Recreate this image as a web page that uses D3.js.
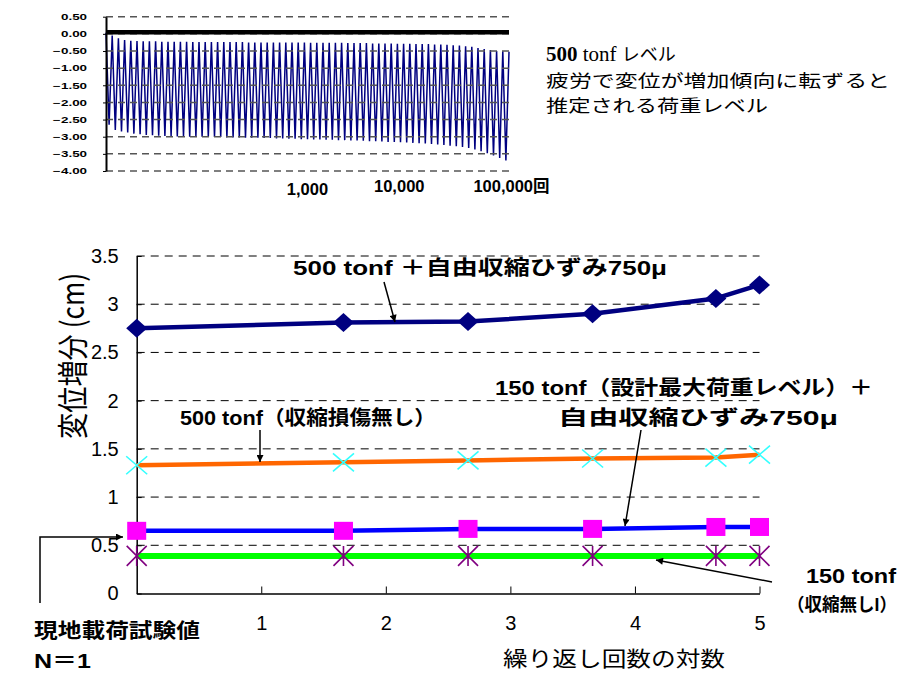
<!DOCTYPE html>
<html>
<head>
<meta charset="utf-8">
<script src="https://cdn.jsdelivr.net/npm/d3@7"></script>
<style>
  body { margin: 0; background: #fff; }
</style>
</head>
<body>
<div id="chart"></div>
<script>
// ---- top small chart: cyclic displacement trace (peaks of each cycle) ----
var cycleTops = [0.03, -0.05, -0.13, -0.18, -0.20, -0.21, -0.22, -0.22, -0.22, -0.23,
  -0.23, -0.23, -0.23, -0.23, -0.24, -0.24, -0.24, -0.24, -0.24, -0.24,
  -0.24, -0.24, -0.24, -0.25, -0.25, -0.25, -0.25, -0.25, -0.25, -0.25,
  -0.25, -0.25, -0.25, -0.26, -0.26, -0.26, -0.26, -0.26, -0.26, -0.27,
  -0.27, -0.27, -0.27, -0.28, -0.28, -0.28, -0.28, -0.29, -0.29, -0.29,
  -0.30, -0.30, -0.30, -0.31, -0.31, -0.32, -0.33, -0.34, -0.36, -0.38,
  -0.41, -0.44, -0.47, -0.50, -0.51, -0.52];
var cycleBottoms = [-2.65, -2.80, -2.85, -2.88, -2.91, -2.93, -2.95, -2.96, -2.97, -2.98,
  -2.98, -2.99, -2.99, -3.00, -3.00, -3.00, -3.01, -3.01, -3.01, -3.02,
  -3.02, -3.02, -3.03, -3.03, -3.03, -3.04, -3.04, -3.05, -3.05, -3.06,
  -3.06, -3.07, -3.07, -3.08, -3.08, -3.09, -3.09, -3.10, -3.10, -3.11,
  -3.11, -3.12, -3.13, -3.13, -3.14, -3.15, -3.15, -3.16, -3.17, -3.18,
  -3.19, -3.20, -3.21, -3.23, -3.24, -3.26, -3.28, -3.30, -3.33, -3.37,
  -3.42, -3.48, -3.55, -3.62, -3.69];
var loadRefLine = [0.05, 0.05];
var topYTicks = [0.5, 0, -0.5, -1, -1.5, -2, -2.5, -3, -3.5, -4];
var topXLabels = ["1,000", "10,000", "100,000回"];
var topXLabelAt = [32.5, 47.3, 65.4]; // in cycle units

// ---- main chart ----
var logN = [0, 1.66, 2.66, 3.66, 4.65, 5];
var s500free = [2.75, 2.81, 2.82, 2.90, 3.06, 3.20];
var s500 = [1.33, 1.36, 1.38, 1.40, 1.41, 1.44];
var s150free = [0.65, 0.65, 0.67, 0.67, 0.69, 0.69];
var s150 = [0.39, 0.39, 0.39, 0.39, 0.39, 0.39];
var mainYTicks = [0, 0.5, 1, 1.5, 2, 2.5, 3, 3.5];
var mainXTicks = [1, 2, 3, 4, 5];

var svg = d3.select("#chart").append("svg")
  .attr("width", 906)
  .attr("height", 677)
  .style("font-family", "'Liberation Sans', Arial, 'Noto Sans CJK JP', sans-serif");

svg.append("defs").append("marker")
  .attr("id", "arr")
  .attr("viewBox", "0 0 10 10")
  .attr("refX", 10).attr("refY", 5)
  .attr("markerWidth", 9).attr("markerHeight", 7)
  .attr("markerUnits", "userSpaceOnUse")
  .attr("orient", "auto")
  .append("path").attr("d", "M0,0 L10,5 L0,10 z").attr("fill", "#000");

/* ---------- top chart ---------- */
var tx = d3.scaleLinear().domain([0, cycleTops.length - 1]).range([106, 509]);
var ty = d3.scaleLinear().domain([-4, 0.5]).range([171, 16.7]);

var zig = [];
cycleTops.forEach(function (v, i) {
  zig.push([i, v]);
  if (i < cycleBottoms.length) zig.push([i + 0.5, cycleBottoms[i]]);
});

var gTop = svg.append("g");

gTop.append("path")
  .datum(zig)
  .attr("fill", "none")
  .attr("stroke", "#000080")
  .attr("stroke-width", 1.5)
  .attr("d", d3.line().x(d => tx(d[0])).y(d => ty(d[1])));

// gridlines sit over the trace
gTop.selectAll(".tgrid")
  .data(topYTicks)
  .enter()
  .append("line")
  .attr("x1", tx(0)).attr("x2", tx(cycleTops.length - 1))
  .attr("y1", d => ty(d)).attr("y2", d => ty(d))
  .attr("stroke", "#555")
  .attr("stroke-width", 1.5)
  .attr("stroke-dasharray", "7,5");

gTop.append("path")
  .datum(loadRefLine)
  .attr("fill", "none")
  .attr("stroke", "#000")
  .attr("stroke-width", 4.5)
  .attr("d", d3.line().x((d, i) => tx(i * (cycleTops.length - 1))).y(d => ty(d)));

var topAxis = gTop.append("g")
  .attr("transform", "translate(" + tx(0) + ",0)")
  .call(d3.axisLeft(ty).tickValues(topYTicks).tickSize(3).tickSizeOuter(0).tickPadding(9).tickFormat(d3.format(".2f")));
topAxis.select(".domain").attr("stroke-width", 2);
topAxis.selectAll("text")
  .attr("transform", "scale(1.58,1)")
  .style("font-size", "8.5px")
  .style("font-weight", "700")
  .attr("fill", "#000");

gTop.selectAll(".txl")
  .data(topXLabels)
  .enter()
  .append("text")
  .attr("x", (d, i) => tx(topXLabelAt[i]))
  .attr("y", (d, i) => (i === 0 ? 195 : 192))
  .attr("text-anchor", "middle")
  .style("font-size", "16.5px")
  .style("font-weight", "700")
  .text(d => d);

// caption at right of top chart
var cap1 = svg.append("text").attr("x", 546).attr("y", 61);
cap1.append("tspan").style("font-family", "'Liberation Serif', serif").style("font-weight", "700").style("font-size", "21px").text("500");
cap1.append("tspan").style("font-family", "'Liberation Serif', serif").style("font-size", "21px").text(" tonf ");
cap1.append("tspan").style("font-family", "'Noto Sans CJK JP', sans-serif").style("font-size", "18px").text("レベル");

svg.append("text")
  .attr("x", 546).attr("y", 86.5)
  .attr("textLength", 344).attr("lengthAdjust", "spacingAndGlyphs")
  .style("font-family", "'Noto Sans CJK JP', sans-serif")
  .style("font-size", "17.5px")
  .text("疲労で変位が増加傾向に転ずると");

svg.append("text")
  .attr("x", 546).attr("y", 112)
  .attr("textLength", 222).attr("lengthAdjust", "spacingAndGlyphs")
  .style("font-family", "'Noto Sans CJK JP', sans-serif")
  .style("font-size", "17.5px")
  .text("推定される荷重レベル");

/* ---------- main chart ---------- */
var mx = d3.scaleLinear().domain([0, 5]).range([136.7, 759.5]);
var my = d3.scaleLinear().domain([0, 3.5]).range([593.5, 256]);

var g = svg.append("g");

g.selectAll(".grid")
  .data(mainYTicks.filter(d => d > 0))
  .enter()
  .append("line")
  .attr("x1", mx(0)).attr("x2", mx(5))
  .attr("y1", d => my(d)).attr("y2", d => my(d))
  .attr("stroke", "#000")
  .attr("stroke-width", 1)
  .attr("stroke-dasharray", "8,6");

var yAx = g.append("g")
  .attr("transform", "translate(" + mx(0) + ",0)")
  .call(d3.axisLeft(my).tickValues(mainYTicks).tickSizeInner(-5).tickSizeOuter(0).tickPadding(18).tickFormat(d3.format("")));
yAx.select(".domain").attr("stroke-width", 1.5);
yAx.selectAll("text").style("font-size", "20px").attr("fill", "#000");

var xAx = g.append("g")
  .attr("transform", "translate(0," + my(0) + ")")
  .call(d3.axisBottom(mx).tickValues(mainXTicks).tickSizeInner(-7).tickSizeOuter(0).tickPadding(22).tickFormat(d3.format("d")));
xAx.select(".domain").attr("stroke-width", 1.5);
xAx.selectAll("text").style("font-size", "20px").attr("fill", "#000");

var series = [
  { vals: s150, line: "#00FF00", lw: 6, marker: "asterisk", mc: "#800080" },
  { vals: s150free, line: "#0000FF", lw: 4.5, marker: "square", mc: "#FF00FF" },
  { vals: s500, line: "#FF6600", lw: 4.5, marker: "x", mc: "#33FFFF" },
  { vals: s500free, line: "#000080", lw: 4.5, marker: "diamond", mc: "#000080" }
];

var line = d3.line().x((d, i) => mx(logN[i])).y(d => my(d));

series.forEach(function (s) {
  g.append("path")
    .datum(s.vals)
    .attr("fill", "none")
    .attr("stroke", s.line)
    .attr("stroke-width", s.lw)
    .attr("stroke-linejoin", "round")
    .attr("d", line);
});

series.forEach(function (s) {
  var m = g.selectAll(null)
    .data(s.vals)
    .enter()
    .append("g")
    .attr("transform", (d, i) => "translate(" + mx(logN[i]) + "," + my(d) + ")");
  if (s.marker === "diamond") {
    m.append("path").attr("d", "M0,-9.5 L10.5,0 L0,9.5 L-10.5,0Z").attr("fill", s.mc);
  } else if (s.marker === "square") {
    m.append("rect").attr("x", -9.5).attr("y", -9).attr("width", 19).attr("height", 18).attr("fill", s.mc);
  } else if (s.marker === "x") {
    m.append("path").attr("d", "M-10.5,-9L10.5,9M-10.5,9L10.5,-9").attr("stroke", s.mc).attr("stroke-width", 1.6);
  } else {
    m.append("path").attr("d", "M-10,-10L10,10M-10,10L10,-10M0,-10L0,10").attr("stroke", s.mc).attr("stroke-width", 1.6);
  }
});

// axis titles
svg.append("text")
  .attr("transform", "translate(84,356) scale(1.2,1) rotate(-90)")
  .attr("text-anchor", "middle")
  .attr("textLength", 166).attr("lengthAdjust", "spacingAndGlyphs")
  .style("font-family", "'Noto Sans CJK JP', sans-serif")
  .style("font-size", "26px")
  .text("変位増分 (cm)");

svg.append("text")
  .attr("x", 503).attr("y", 666)
  .attr("textLength", 222).attr("lengthAdjust", "spacingAndGlyphs")
  .style("font-family", "'Noto Sans CJK JP', sans-serif")
  .style("font-size", "21px")
  .text("繰り返し回数の対数");

// annotations
var notes = [
  { t: "500 tonf ＋自由収縮ひずみ750μ", x: 293, y: 275, w: 374, fs: 20 },
  { t: "500 tonf（収縮損傷無し）", x: 180, y: 425, w: 256, fs: 20 },
  { t: "150 tonf（設計最大荷重レベル）＋", x: 495, y: 395, w: 378, fs: 20 },
  { t: "自由収縮ひずみ750μ", x: 558, y: 425, w: 280, fs: 20 },
  { t: "150 tonf", x: 806, y: 583, w: 90, fs: 20 },
  { t: "（収縮無しI）", x: 787, y: 611, w: 110, fs: 18 },
  { t: "現地載荷試験値", x: 34, y: 638, w: 166, fs: 20 },
  { t: "N＝1", x: 34, y: 668, w: 57, fs: 20 }
];
svg.selectAll(".note")
  .data(notes)
  .enter()
  .append("text")
  .attr("x", d => d.x)
  .attr("y", d => d.y)
  .attr("textLength", d => d.w)
  .attr("lengthAdjust", "spacingAndGlyphs")
  .style("font-size", d => d.fs + "px")
  .style("font-weight", "700")
  .text(d => d.t);

var arrows = [
  [[384, 282], [395, 322]],
  [[260, 430], [260, 462]],
  [[641, 430], [625, 526]],
  [[772, 582], [656, 560]],
  [[40, 603], [40, 537], [123, 537]]
];
svg.selectAll(".arrow")
  .data(arrows)
  .enter()
  .append("path")
  .attr("d", d => d3.line()(d))
  .attr("fill", "none")
  .attr("stroke", "#000")
  .attr("stroke-width", 1.5)
  .attr("marker-end", "url(#arr)");
</script>
</body>
</html>
